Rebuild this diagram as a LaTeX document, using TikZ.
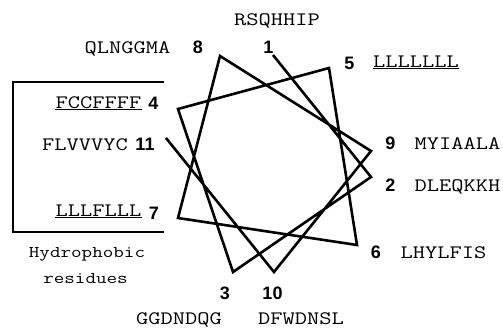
\documentclass[tikz,border=0pt]{standalone}
\usepackage{fontspec}
\setsansfont{Liberation Sans}
\usepackage{graphicx}
\usepackage{tikz}
\newcommand{\seq}[1]{\scalebox{1.25}[1]{#1}}

\begin{document}
\begin{tikzpicture}[x=1pt, y=-1pt,
  wheel/.style={line width=2.6pt},
  bracket/.style={line width=1.6pt},
  uline/.style={line width=1.3pt},
  num/.style={font=\sffamily\bfseries\fontsize{18}{18}\selectfont, inner sep=0pt},
  res/.style={font=\ttfamily\fontsize{19}{19}\selectfont, inner sep=0pt, anchor=base},
  caption/.style={font=\ttfamily\fontsize{16.4}{16.4}\selectfont, inner sep=0pt, anchor=base}]
\useasboundingbox (0,0) rectangle (503,329);
\coordinate (p1) at (273,55);
\coordinate (p2) at (371,177);
\coordinate (p3) at (233,272);
\coordinate (p4) at (178,109);
\coordinate (p5) at (329,68);
\coordinate (p6) at (357,245);
\coordinate (p7) at (178,218);
\coordinate (p8) at (220,56);
\coordinate (p9) at (371,151);
\coordinate (p10) at (274,272);
\coordinate (p11) at (166,138);
\draw[wheel] (p1) \foreach \i in {2,...,11}{ -- (p\i)};
\node[num] (n1) at (268.5,47) {1};
\node[num] (n2) at (390.5,185) {2};
\node[num] (n3) at (225,293) {3};
\node[num] (n4) at (153.5,103) {4};
\node[num] (n5) at (349.5,63) {5};
\node[num] (n6) at (376,252) {6};
\node[num] (n7) at (154,213) {7};
\node[num] (n8) at (198,47) {8};
\node[num] (n9) at (390.5,143) {9};
\node[num] (n10) at (272.5,293) {10};
\node[num] (n11) at (145,144) {11};
\node[res] (s1) at (277,26) {\seq{RSQHHIP}};
\node[res] (s2) at (457.5,191) {\seq{DLEQKKH}};
\node[res] (s3) at (179,324) {\seq{GGDNDQG}};
\node[res] (s4) at (98.5,108) {\seq{FCCFFFF}};
\node[res] (s5) at (416,67) {\seq{LLLLLLL}};
\node[res] (s6) at (443.5,258) {\seq{LHYLFIS}};
\node[res] (s7) at (98.5,216) {\seq{LLLFLLL}};
\node[res] (s8) at (127.5,53) {\seq{QLNGGMA}};
\node[res] (s9) at (457.5,149) {\seq{MYIAALA}};
\node[res] (s10) at (301,324) {\seq{DFWDNSL}};
\node[res] (s11) at (85,150) {\seq{FLVVVYC}};
\foreach \s in {s4,s5,s7}
  \draw[uline] ([yshift=-1.2pt]\s.south west) -- ([yshift=-1.2pt]\s.south east);
\draw[bracket] (164,82) -- (13,82) -- (13,232) -- (164,232);
\node[caption] (h1) at (87,257) {\seq{Hydrophobic}};
\node[caption] (h2) at (85.5,283) {\seq{residues}};
\end{tikzpicture}
\end{document}
